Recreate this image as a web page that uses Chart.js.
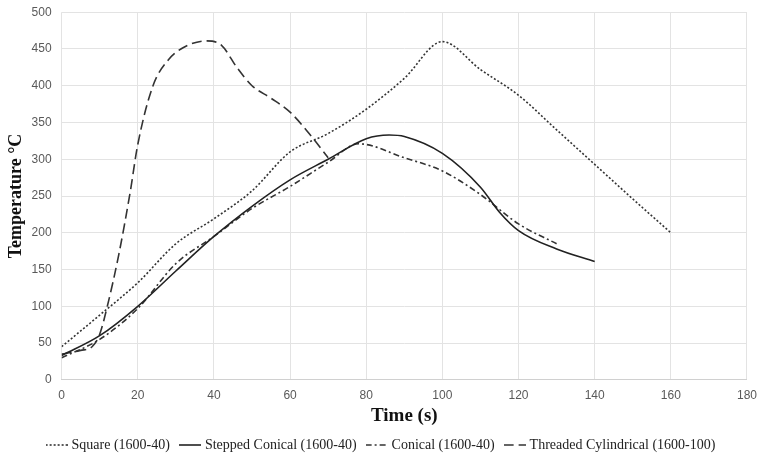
<!DOCTYPE html>
<html>
<head>
<meta charset="utf-8">
<script src="https://cdn.jsdelivr.net/npm/chart.js@4"></script>
<style>
  html, body { margin: 0; padding: 0; background: #fff; }
  #wrap { width: 758px; height: 457px; }
</style>
</head>
<body>
<div id="wrap"><canvas id="tempChart" width="758" height="457"></canvas></div>
<script>
// time (s) and temperature (°C) readings per tool profile
const squareTime = [0, 10, 20, 30, 40, 50, 60, 70, 80, 90, 100, 110, 120, 130, 140, 150, 160];
const squareTemp = [45, 88, 132, 185, 219, 257, 310, 335, 368, 410, 460, 422, 387, 340, 293, 246, 200];

const steppedTime = [0, 10, 20, 30, 40, 50, 60, 70, 80, 86, 90, 100, 110, 115, 120, 130, 140];
const steppedTemp = [33, 60, 100, 148, 195, 236, 272, 300, 328, 333, 331, 308, 262, 228, 203, 178, 161];

const conicalTime = [0, 10, 20, 30, 40, 50, 60, 70, 78, 90, 100, 110, 120, 130];
const conicalTemp = [30, 55, 97, 158, 195, 233, 263, 296, 321, 302, 284, 252, 212, 185];

const threadedTime = [0, 5, 8, 10, 12, 15, 18, 20, 24, 28, 32, 38, 42, 46, 50, 55, 60, 65, 70];
const threadedTemp = [35, 40, 45, 62, 100, 170, 255, 320, 400, 435, 452, 461, 455, 425, 400, 383, 364, 335, 302];

const seriesNames = ['Square (1600-40)', 'Stepped Conical (1600-40)', 'Conical (1600-40)', 'Threaded Cylindrical (1600-100)'];
const xTicks = [0, 20, 40, 60, 80, 100, 120, 140, 160, 180];
const yTicks = [0, 50, 100, 150, 200, 250, 300, 350, 400, 450, 500];

const dashes = [[2, 2], [], [6, 3, 2, 3], [10, 5]];
const lineColors = ['#333', '#222', '#333', '#333'];

function pts(xs, ys) {
  return xs.map((x, i) => ({ x: x, y: ys[i] }));
}

// small line sample used as legend marker (keeps the dash pattern)
function sample(dash, color) {
  const c = document.createElement('canvas');
  c.width = 22;
  c.height = 4;
  const g = c.getContext('2d');
  g.strokeStyle = color;
  g.lineWidth = 1.6;
  g.setLineDash(dash);
  g.beginPath();
  g.moveTo(0, 2);
  g.lineTo(22, 2);
  g.stroke();
  return c;
}

function line(i, xs, ys) {
  return {
    label: seriesNames[i],
    data: pts(xs, ys),
    borderColor: lineColors[i],
    backgroundColor: lineColors[i],
    borderWidth: 1.6,
    borderDash: dashes[i],
    pointRadius: 0,
    pointStyle: sample(dashes[i], lineColors[i]),
    cubicInterpolationMode: 'monotone',
    fill: false
  };
}

const serif = '"Liberation Serif", "Times New Roman", serif';
const sans = '"Liberation Sans", sans-serif';

const ctx = document.getElementById('tempChart').getContext('2d');
new Chart(ctx, {
  type: 'line',
  data: {
    datasets: [
      line(0, squareTime, squareTemp),
      line(1, steppedTime, steppedTemp),
      line(2, conicalTime, conicalTemp),
      line(3, threadedTime, threadedTemp)
    ]
  },
  options: {
    responsive: false,
    animation: false,
    layout: { padding: { left: 6, right: 0, top: 0, bottom: -5 } },
    plugins: {
      tooltip: { enabled: false },
      legend: {
        position: 'bottom',
        labels: {
          usePointStyle: true,
          pointStyleWidth: 16,
          boxHeight: 4,
          padding: 12,
          color: '#222',
          font: { family: serif, size: 14 }
        }
      }
    },
    scales: {
      x: {
        type: 'linear',
        min: 0,
        max: 180,
        afterBuildTicks: (axis) => { axis.ticks = xTicks.map(v => ({ value: v })); },
        ticks: { color: '#595959', font: { family: sans, size: 12 }, padding: 1 },
        // invisible tick marks give the label gap
        grid: { color: '#e3e3e3', drawTicks: true, tickLength: 8, tickColor: 'rgba(0,0,0,0)' },
        border: { color: '#d0d0d0' },
        title: {
          display: true,
          text: 'Time (s)',
          color: '#111',
          font: { family: serif, size: 19, weight: 'bold' },
          padding: { top: 0, bottom: -1 }
        }
      },
      y: {
        min: 0,
        max: 500,
        afterBuildTicks: (axis) => { axis.ticks = yTicks.map(v => ({ value: v })); },
        ticks: { color: '#595959', font: { family: sans, size: 12 }, padding: 5 },
        grid: { color: '#e3e3e3', drawTicks: true, tickLength: 5, tickColor: 'rgba(0,0,0,0)' },
        border: { display: false },
        title: {
          display: true,
          text: 'Temperature °C',
          color: '#111',
          font: { family: serif, size: 18, weight: 'bold' },
          padding: { top: 0, bottom: -1 }
        }
      }
    }
  }
});
</script>
</body>
</html>
